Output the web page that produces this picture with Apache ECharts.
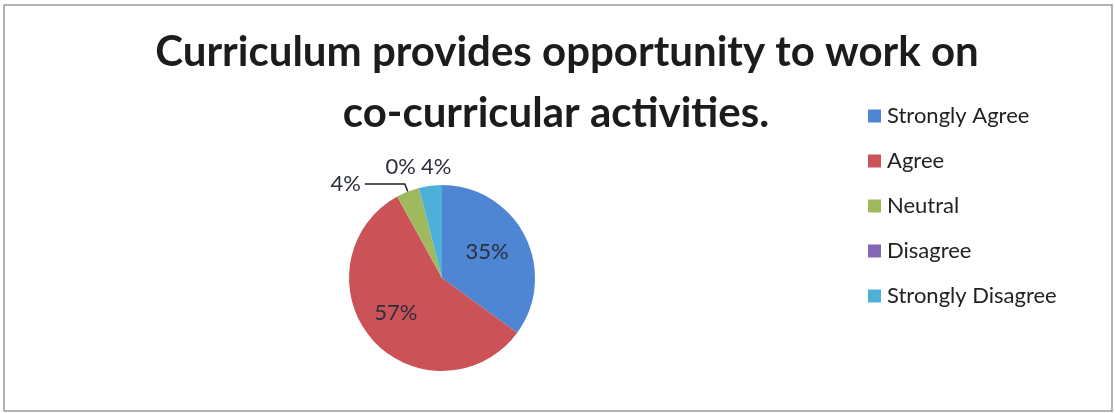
<!DOCTYPE html>
<html>
<head>
<meta charset="utf-8">
<script src="https://cdn.jsdelivr.net/npm/echarts@6/dist/echarts.min.js"></script>
<style>
  html, body { margin: 0; padding: 0; background: #fff; }
  #chart { width: 1115px; height: 413px; }
</style>
</head>
<body>
<div id="chart"></div>
<script>
const categories = ['Strongly Agree', 'Agree', 'Neutral', 'Disagree', 'Strongly Disagree']
const percents = [35, 57, 4, 0, 4]
const colors = ['#4f86d4', '#cb5357', '#9fba5c', '#8366b5', '#4eb0d8']
const titleLines = ['Curriculum provides opportunity to work on', 'co-curricular activities.']

const myChart = echarts.init(document.getElementById('chart'))

// big slices get the label inside, small ones outside
const pieData = categories.map((name, i) => {
  const item = { name: name, value: percents[i], itemStyle: { color: colors[i] } }
  if (percents[i] >= 10) {
    item.label = { position: 'inside', fontSize: 22, color: '#2b2f3a' }
    item.labelLine = { show: false }
  } else {
    item.label = { position: 'outside', fontSize: 22, color: '#2b2f3a' }
    item.labelLine = { show: i === 2, length: 8, length2: 40, lineStyle: { color: '#222', width: 1.5 } }
  }
  return item
})

const titleStyle = {
  fontFamily: 'Lato',
  fontWeight: 'bold',
  fontSize: 42,
  lineHeight: 56,
  color: '#1c1c1c',
}

myChart.setOption({
  backgroundColor: '#fff',
  animation: false,
  title: [
    { text: titleLines[0], left: 562, top: 19, textAlign: 'center', textStyle: titleStyle },
    { text: titleLines[1], left: 551, top: 80, textAlign: 'center', textStyle: titleStyle },
  ],
  legend: {
    orient: 'vertical',
    left: 863,
    top: 100,
    itemWidth: 13,
    itemHeight: 13,
    itemGap: 23,
    icon: 'rect',
    textStyle: { fontFamily: 'Lato', fontSize: 22, lineHeight: 22, color: '#222', padding: [0, 0, 0, 1] },
    data: categories,
  },
  graphic: [
    {
      type: 'rect',
      shape: { x: 4, y: 5, width: 1108, height: 406 },
      style: { fill: 'none', stroke: '#9a9a9a', lineWidth: 1.5 },
      silent: true,
    },
  ],
  series: [
    {
      type: 'pie',
      center: [442, 278],
      radius: 93,
      startAngle: 90,
      clockwise: true,
      avoidLabelOverlap: false,
      label: {
        formatter: '{d}%',
        fontFamily: 'Lato',
      },
      labelLayout: function (params) {
        // nudge labels to sit like the original
        if (params.dataIndex === 0) return { dx: 1, dy: -4 }
        if (params.dataIndex === 1) return { dx: -9, dy: 2 }
        if (params.dataIndex === 2) return { dx: 1, dy: 0 }
        if (params.dataIndex === 3) return { dx: 44, dy: -13 }
        if (params.dataIndex === 4) return { dx: 67, dy: -11 }
        return {}
      },
      data: pieData,
    },
  ],
})
</script>
</body>
</html>
